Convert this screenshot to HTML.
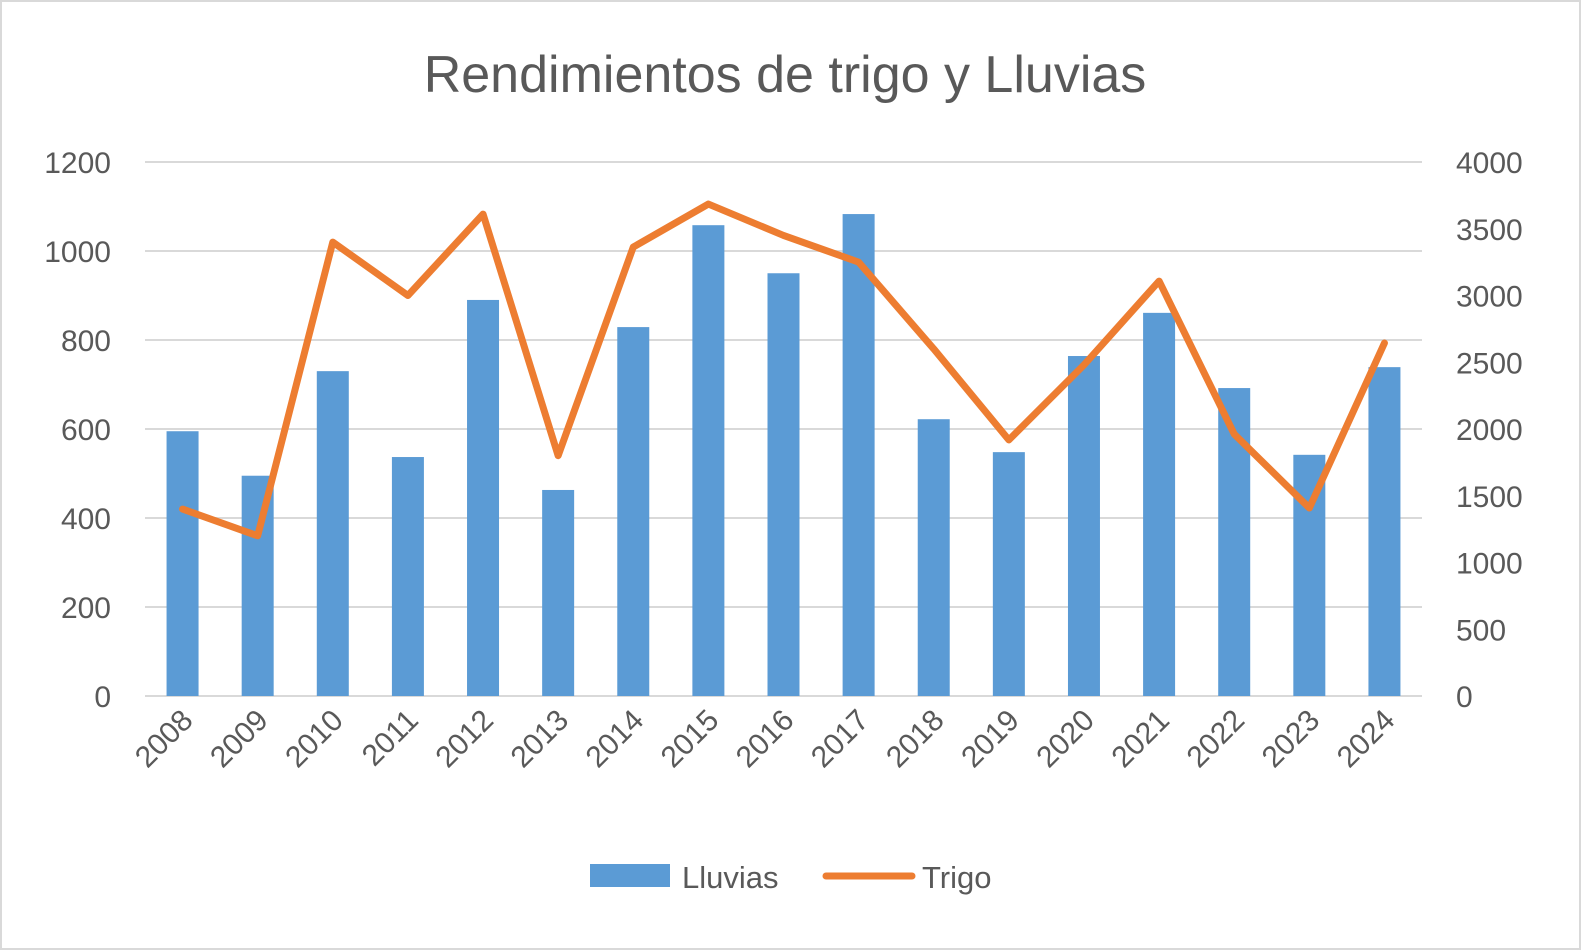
<!DOCTYPE html>
<html><head><meta charset="utf-8">
<style>
html,body{margin:0;padding:0;background:#fff;}
svg{display:block;font-family:"Liberation Sans",sans-serif;}
</style></head>
<body>
<svg id="chart" width="1581" height="950" xmlns="http://www.w3.org/2000/svg">
<rect x="1" y="1" width="1579" height="948" fill="#fff" stroke="#d9d9d9" stroke-width="2"/>
<text x="785" y="92" text-anchor="middle" font-size="52" fill="#595959">Rendimientos de trigo y Lluvias</text>
<g id="grid"></g>
<g id="bars"></g>
<g id="line"></g>
<g id="axes"></g>
<g>
<rect x="590" y="864" width="80" height="23" fill="#5b9bd5"/>
<text x="682" y="888" font-size="31" fill="#595959">Lluvias</text>
<line x1="826" y1="876" x2="912" y2="876" stroke="#ed7d31" stroke-width="7" stroke-linecap="round"/>
<text x="922" y="888" font-size="31" fill="#595959">Trigo</text>
</g>
</svg>
<script>
const categories=["2008","2009","2010","2011","2012","2013","2014","2015","2016","2017","2018","2019","2020","2021","2022","2023","2024"];
const lluvias=[595,495,730,537,890,463,829,1058,950,1083,622,548,764,861,692,542,739];
const trigo=[1400,1200,3400,3000,3610,1800,3363,3685,3450,3250,2600,1918,2480,3108,1962,1408,2644];
const leftTicks=[0,200,400,600,800,1000,1200];
const rightTicks=[0,500,1000,1500,2000,2500,3000,3500,4000];
const NS="http://www.w3.org/2000/svg";
const x0=145,x1=1422,yBot=696,yTop=162;
const band=(x1-x0)/categories.length;
const xC=i=>x0+band*(i+0.5);
const yL=v=>yBot-(v/1200)*(yBot-yTop);
const yR=v=>yBot-(v/4000)*(yBot-yTop);
function mk(tag,attrs,parent,txt){const e=document.createElementNS(NS,tag);for(const k in attrs)e.setAttribute(k,attrs[k]);if(txt!==undefined)e.textContent=txt;parent.appendChild(e);return e;}
const grid=document.getElementById('grid'),bars=document.getElementById('bars'),line=document.getElementById('line'),axes=document.getElementById('axes');
leftTicks.forEach(t=>{
  const g=mk('line',{x1:x0,x2:x1,y1:yL(t),y2:yL(t),stroke:'#d9d9d9','stroke-width':2},grid);
  
  
  const l=mk('text',{x:111,y:yL(t)+11,'text-anchor':'end','font-size':30,fill:'#595959'},axes,String(t));
  
  
});
rightTicks.forEach(t=>{
  const l=mk('text',{x:1456,y:yR(t)+11,'font-size':30,fill:'#595959'},axes,String(t));
  
  
});
const bw=32;
lluvias.forEach((v,i)=>{
  const r=mk('rect',{x:xC(i)-bw/2,y:yL(v),width:bw,height:yBot-yL(v),fill:'#5b9bd5'},bars);
  
  
});
const pl=mk('polyline',{points:trigo.map((v,i)=>xC(i)+','+yR(v)).join(' '),fill:'none',stroke:'#ed7d31','stroke-width':7,'stroke-linejoin':'round','stroke-linecap':'round'},line);


categories.forEach((c,i)=>{
  const x=xC(i)+12,y=722;
  const t=mk('text',{x:x,y:y,'text-anchor':'end','font-size':30,fill:'#595959',transform:`rotate(-45 ${x} ${y})`},axes,c);
  
  
});
</script>
</body></html>
